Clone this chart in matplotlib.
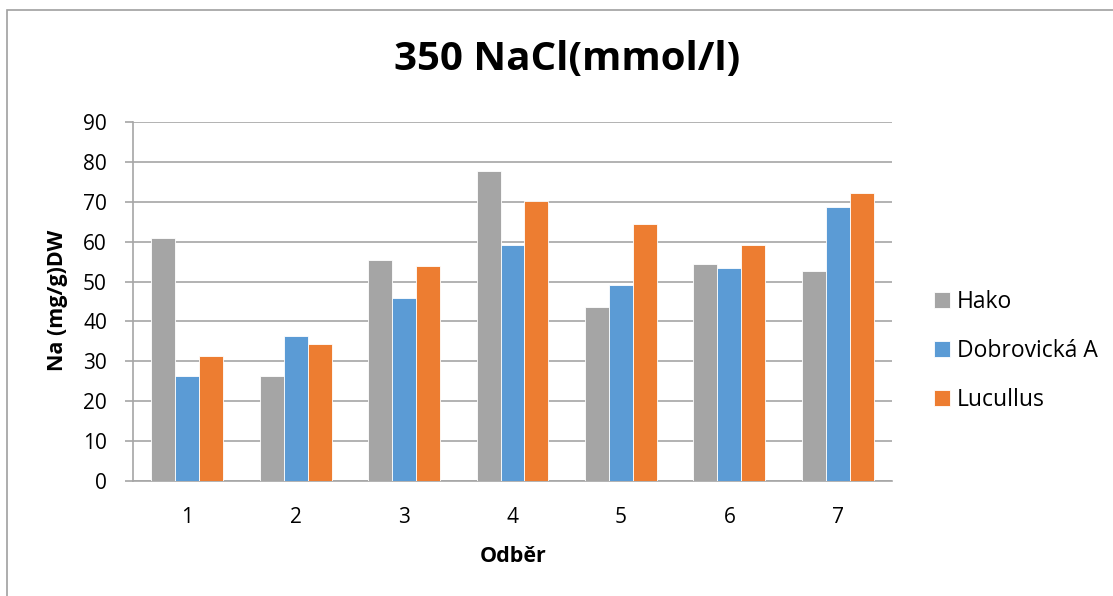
import matplotlib
matplotlib.use("Agg")
import matplotlib.pyplot as plt
import numpy as np
from matplotlib.patches import Rectangle

plt.rcParams['font.family'] = ['Open Sans', 'DejaVu Sans']

# Na content per sampling, three varieties
odber = ['1', '2', '3', '4', '5', '6', '7']
hako = [60.8, 26.3, 55.4, 77.7, 43.5, 54.5, 52.6]
dobrovicka = [26.3, 36.4, 45.8, 59.1, 49.2, 53.5, 68.6]
lucullus = [31.4, 34.4, 53.9, 70.2, 64.4, 59.1, 72.3]

series = [('Hako', hako, '#A5A5A5'),
          ('Dobrovická A', dobrovicka, '#5B9BD5'),
          ('Lucullus', lucullus, '#ED7D31')]

W, H = 1113, 596
fig = plt.figure(figsize=(W / 100, H / 100), dpi=100)
ax = fig.add_axes([133 / W, 1 - 481 / H, (892 - 133) / W, (481 - 122) / H])

x = np.arange(len(odber))
bw = 0.221
for i, (name, vals, col) in enumerate(series):
    ax.bar(x + (i - 1) * bw, vals, width=bw, color=col, label=name,
           edgecolor='white', linewidth=0.6, zorder=3)

ax.set_xlim(-0.5, len(odber) - 0.5)
ax.set_ylim(0, 90)
ax.set_yticks(np.arange(0, 91, 10))
ax.set_xticks(x)
ax.set_xticklabels(odber)
ax.yaxis.grid(True, color='#A6A6A6', linewidth=1.2, zorder=0)
ax.set_axisbelow(True)

for s in ['top', 'right']:
    ax.spines[s].set_visible(False)
ax.spines['left'].set_color('#A6A6A6')
ax.spines['bottom'].set_color('#A6A6A6')
ax.spines['left'].set_linewidth(1.2)
ax.spines['bottom'].set_linewidth(1.2)
ax.tick_params(axis='y', length=5.8, width=1.2, color='#A6A6A6', labelsize=15, pad=13)
ax.tick_params(axis='x', length=0, labelsize=15, pad=19)

fig.text(567 / W, 1 - 60 / H, '350 NaCl(mmol/l)', ha='center', va='center',
         fontsize=29, fontweight='bold')
fig.text(57 / W, 1 - 300 / H, 'Na (mg/g)DW', ha='center', va='center',
         rotation=90, fontsize=15.5, fontweight='bold')
fig.text(513 / W, 1 - 557 / H, 'Odběr', ha='center', va='center',
         fontsize=15.5, fontweight='bold')

fig.legend(loc='center left', bbox_to_anchor=(913 / W, 1 - 351 / H),
           frameon=False, fontsize=16.5, handlelength=0.7, handleheight=0.7,
           handletextpad=0.3, labelspacing=1.1)

# outer chart frame
fig.patches.append(Rectangle((7 / W, -0.1), 1.2, 1 - 10 / H + 0.1,
                             transform=fig.transFigure, fill=False,
                             edgecolor='#A0A0A0', linewidth=1.2))

fig.savefig('out.png', dpi=100)
